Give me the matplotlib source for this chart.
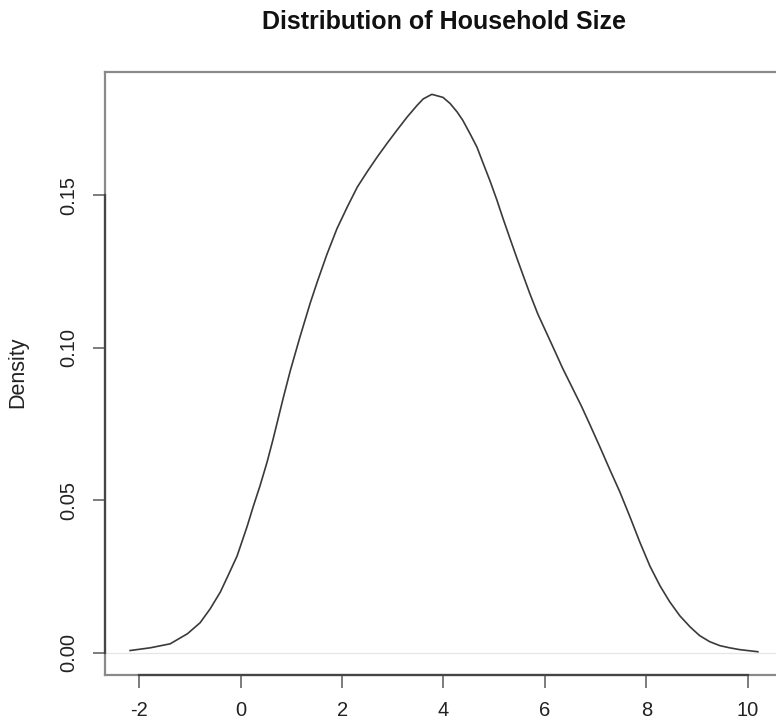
import matplotlib
matplotlib.use("Agg")
import matplotlib.pyplot as plt
from matplotlib.transforms import blended_transform_factory

plt.rcParams['font.family'] = ['Liberation Sans', 'DejaVu Sans']

# Density curve
household_size = [-2.18, -1.78, -1.39, -1.05, -0.80, -0.60, -0.40, -0.25, -0.07,
                  0.13, 0.25, 0.38, 0.52, 0.64, 0.84, 0.98, 1.17, 1.37, 1.51,
                  1.70, 1.90, 2.10, 2.30, 2.49, 2.69, 2.89, 3.08, 3.28, 3.48,
                  3.60, 3.77, 3.99, 4.13, 4.27, 4.38, 4.52, 4.66, 4.78, 4.92,
                  5.05, 5.17, 5.31, 5.45, 5.57, 5.70, 5.86, 6.04, 6.20, 6.35,
                  6.55, 6.72, 6.88, 7.08, 7.28, 7.48, 7.68, 7.87, 8.07, 8.27,
                  8.46, 8.66, 8.86, 9.05, 9.25, 9.45, 9.64, 9.84, 10.20]
density = [0.0007, 0.0016, 0.0029, 0.0062, 0.0098, 0.0144, 0.0199, 0.0252, 0.0317,
           0.0415, 0.0480, 0.0546, 0.0624, 0.0700, 0.0835, 0.0925, 0.1035, 0.1145, 0.1215,
           0.1305, 0.1390, 0.1460, 0.1526, 0.1575, 0.1624, 0.1670, 0.1712, 0.1755, 0.1794,
           0.1815, 0.1830, 0.1820, 0.1800, 0.1772, 0.1745, 0.1702, 0.1657, 0.1605, 0.1545,
           0.1485, 0.1425, 0.1358, 0.1292, 0.1237, 0.1178, 0.1110, 0.1045, 0.0987, 0.0932,
           0.0865, 0.0808, 0.0750, 0.0676, 0.0600, 0.0526, 0.0444, 0.0363, 0.0284, 0.0219,
           0.0167, 0.0121, 0.0085, 0.0056, 0.0036, 0.0023, 0.0016, 0.0010, 0.0003]

x_ticks = [-2, 0, 2, 4, 6, 8, 10]
y_ticks = [0.00, 0.05, 0.10, 0.15]
y_tick_labels = ["0.00", "0.05", "0.10", "0.15"]

W, H = 776, 724
fig = plt.figure(figsize=(W / 100, H / 100), dpi=100)
ax = fig.add_axes([105 / W, 49 / H, (783 - 105) / W, (675 - 72) / H])

ax.axhline(0, color='#e6e6e6', lw=0.9, zorder=1)
ax.plot(household_size, density, color='#3a3a3a', lw=1.2, zorder=3)

xr = household_size[-1] - household_size[0]
ax.set_xlim(household_size[0] - 0.04 * xr, household_size[-1] + 0.04 * xr)
ymax = max(density)
ax.set_ylim(-0.04 * ymax, ymax * 1.04)

for s in ax.spines.values():
    s.set_color('#8a8a8a')
    s.set_linewidth(1.6)

ax.set_xticks(x_ticks)
ax.set_xticklabels([str(v) for v in x_ticks])
ax.set_yticks(y_ticks)
ax.set_yticklabels(y_tick_labels, rotation=90, va='center')
ax.tick_params(axis='both', direction='out', length=9, width=1.2, color='#666666',
               labelsize=14.5, labelcolor='#222222')
ax.tick_params(axis='x', pad=10)
ax.tick_params(axis='y', pad=10)

# darker axis lines spanning the ticks (as R draws them)
tb = blended_transform_factory(ax.transData, ax.transAxes)
ax.plot([x_ticks[0], x_ticks[-1]], [0, 0], transform=tb, color='#444444', lw=1.6,
        clip_on=False, zorder=5)
tl = blended_transform_factory(ax.transAxes, ax.transData)
ax.plot([0, 0], [y_ticks[0], y_ticks[-1]], transform=tl, color='#444444', lw=1.6,
        clip_on=False, zorder=5)

fig.text(18 / W, 1 - 372 / H, "Density", rotation=90, ha='center', va='center',
         fontsize=15.5, color='#222222')
fig.text(444 / W, 1 - 22 / H, "Distribution of Household Size", ha='center',
         va='center', fontsize=18, fontweight='bold', color='#111111')

fig.savefig("out.png", dpi=100)
